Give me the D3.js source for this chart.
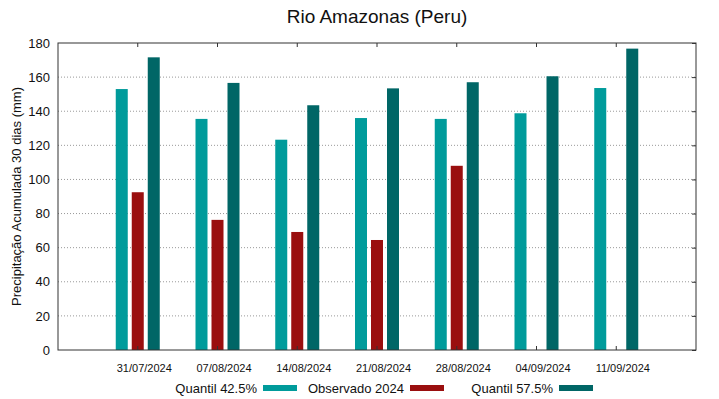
<!DOCTYPE html>
<html>
<head>
<meta charset="utf-8">
<script src="https://cdn.jsdelivr.net/npm/d3@7"></script>
<style>
  body { margin: 0; background: #fff; }
  text { font-family: "Liberation Sans", Arial, sans-serif; fill: #111; }
</style>
</head>
<body>
<div id="chart"></div>
<script>
// data
const dates = ["31/07/2024", "07/08/2024", "14/08/2024", "21/08/2024", "28/08/2024", "04/09/2024", "11/09/2024"];
const q425 = [153, 135.5, 123.3, 136, 135.5, 138.8, 153.6];
const obs2024 = [92.5, 76.3, 69.2, 64.5, 108, null, null];
const q575 = [171.6, 156.6, 143.5, 153.4, 157, 160.5, 176.7];
const yTicks = [0, 20, 40, 60, 80, 100, 120, 140, 160, 180];

const series = [
  { name: "Quantil 42.5%", values: q425, color: "#009b9b", off: -16 },
  { name: "Observado 2024", values: obs2024, color: "#9a0f0f", off: 0 },
  { name: "Quantil 57.5%", values: q575, color: "#006666", off: 16 }
];

const W = 719, H = 399;
const m = { top: 43, right: 23, bottom: 49, left: 58 };
const iw = W - m.left - m.right, ih = H - m.top - m.bottom;

const svg = d3.select("#chart").append("svg")
  .attr("width", W).attr("height", H);

const x = d3.scaleLinear().domain([-1, 7]).range([m.left, m.left + iw]);
const y = d3.scaleLinear().domain([0, 180]).range([m.top + ih, m.top]);

/// grid
svg.append("g").selectAll("line")
  .data(yTicks.filter(d => d > 0 && d < 180))
  .enter().append("line")
  .attr("x1", m.left).attr("x2", m.left + iw)
  .attr("y1", d => y(d)).attr("y2", d => y(d))
  .attr("stroke", "#999").attr("stroke-width", 1)
  .attr("stroke-dasharray", "1,2");

/// bars
const barW = 12;
series.forEach(s => {
  svg.append("g").selectAll("rect")
    .data(s.values.map((v, i) => ({ v: v, i: i })).filter(d => d.v != null))
    .enter().append("rect")
    .attr("x", d => x(d.i) + s.off - barW / 2)
    .attr("y", d => y(d.v))
    .attr("width", barW)
    .attr("height", d => y(0) - y(d.v))
    .attr("fill", s.color);
});

/// axes
const yAxisL = d3.axisLeft(y).tickValues(yTicks).tickSize(0).tickPadding(8);
const gy = svg.append("g").attr("transform", "translate(" + m.left + ",0)").call(yAxisL);
gy.select(".domain").remove();
gy.selectAll("text").style("font-size", "13px");

const yAxisR = d3.axisLeft(y).tickValues(yTicks).tickSize(4).tickFormat("");
const gyr = svg.append("g").attr("transform", "translate(" + (m.left + iw) + ",0)").call(yAxisR);
gyr.select(".domain").remove();
gyr.selectAll("line").attr("stroke", "#333");

const xIdx = d3.range(dates.length);
const xAxisB = d3.axisBottom(x).tickValues(xIdx).tickSize(0).tickPadding(14)
  .tickFormat(i => dates[i]);
const gx = svg.append("g").attr("transform", "translate(0," + (m.top + ih) + ")").call(xAxisB);
gx.select(".domain").remove();
gx.selectAll("text").style("font-size", "11px").attr("dx", 6);

// small inner tick marks top and bottom
const gt = svg.append("g");
xIdx.forEach(i => {
  gt.append("line").attr("x1", x(i)).attr("x2", x(i))
    .attr("y1", m.top).attr("y2", m.top + 4).attr("stroke", "#333");
  gt.append("line").attr("x1", x(i)).attr("x2", x(i))
    .attr("y1", m.top + ih).attr("y2", m.top + ih - 4).attr("stroke", "#333");
});

/// frame
svg.append("rect")
  .attr("x", m.left).attr("y", m.top)
  .attr("width", iw).attr("height", ih)
  .attr("fill", "none").attr("stroke", "#333").attr("stroke-width", 1);

/// title
svg.append("text")
  .attr("x", m.left + iw / 2).attr("y", 23)
  .attr("text-anchor", "middle")
  .style("font-size", "19px")
  .text("Rio Amazonas (Peru)");

/// y label
svg.append("text")
  .attr("transform", "translate(21," + (m.top + ih / 2) + ") rotate(-90)")
  .attr("text-anchor", "middle")
  .style("font-size", "13px")
  .text("Precipitação Acumulada 30 dias (mm)");

/// legend
const legX = [257, 404, 553];
series.forEach((s, k) => {
  svg.append("text")
    .attr("x", legX[k]).attr("y", 393)
    .attr("text-anchor", "end")
    .style("font-size", "13px")
    .text(s.name);
  svg.append("rect")
    .attr("x", legX[k] + 6).attr("y", 385)
    .attr("width", 34).attr("height", 6)
    .attr("fill", s.color);
});
</script>
</body>
</html>
